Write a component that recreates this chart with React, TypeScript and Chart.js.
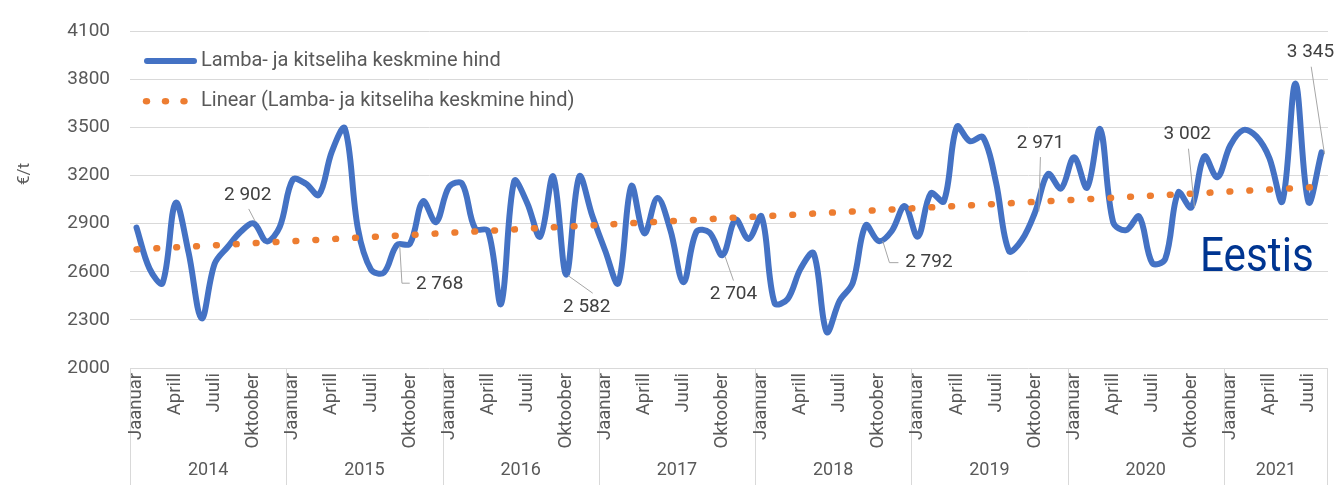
import React, { useEffect, useRef } from 'react';
import { Chart, registerables } from 'chart.js';

Chart.register(...registerables);

const FONT = 'Roboto, "Noto Sans", sans-serif';

// ---- data ----
const years = ['2014', '2015', '2016', '2017', '2018', '2019', '2020', '2021'];
const monthTicks = ['Jaanuar', '', '', 'Aprill', '', '', 'Juuli', '', '', 'Oktoober', '', ''];
const monthsInLastYear = 8;

const prices2014 = [2876, 2620, 2530, 3030, 2720, 2310, 2650, 2755, 2850, 2902, 2790, 2880];
const prices2015 = [3175, 3150, 3080, 3350, 3495, 2870, 2615, 2595, 2768, 2775, 3040, 2910];
const prices2016 = [3130, 3150, 2870, 2855, 2400, 3165, 3030, 2820, 3195, 2582, 3195, 2950];
const prices2017 = [2730, 2530, 3135, 2840, 3060, 2860, 2535, 2850, 2845, 2704, 2925, 2805];
const prices2018 = [2945, 2405, 2430, 2620, 2715, 2225, 2420, 2530, 2890, 2792, 2855, 3010];
const prices2019 = [2820, 3090, 3040, 3505, 3415, 3440, 3160, 2730, 2800, 2971, 3210, 3120];
const prices2020 = [3315, 3125, 3490, 2910, 2860, 2945, 2655, 2680, 3095, 3002, 3320, 3190];
const prices2021 = [3390, 3485, 3445, 3310, 3040, 3775, 3035, 3345];

const prices = [
  ...prices2014, ...prices2015, ...prices2016, ...prices2017,
  ...prices2018, ...prices2019, ...prices2020, ...prices2021,
];

// linear trend line end values
const trendStart = 2740;
const trendEnd = 3131;

const yMin = 2000;
const yMax = 4100;
const yStep = 300;

const seriesName = 'Lamba- ja kitseliha keskmine hind';
const trendName = 'Linear (Lamba- ja kitseliha keskmine hind)';
const yTitle = '€/t';
const regionText = 'Eestis';

// indices of labelled points
const calloutIndex = [9, 20, 33, 45, 57, 69, 81, 91];

// ---- derived tables ----
const categories: string[] = [];
years.forEach((yr, k) => {
  const count = k === years.length - 1 ? monthsInLastYear : 12;
  for (let m = 0; m < count; m++) categories.push(`${yr}-${m + 1}`);
});
const trendValues = prices.map((_, i) =>
  i === 0 ? trendStart : i === prices.length - 1 ? trendEnd : null
);

// ---- callout layout (offsets from the point, in px) ----
type Callout = { tx: number; ty: number; align: CanvasTextAlign; leader: number[][] };
const calloutLayout: Callout[] = [
  { tx: -6, ty: -28.5, align: 'center', leader: [[1.5, -2], [-5, -14.5]] },
  { tx: 19, ty: 39, align: 'left', leader: [[2.8, 1], [5, 38.3], [12.8, 38.3]] },
  { tx: 20.5, ty: 33, align: 'center', leader: [[2, 1], [26.5, 18.5]] },
  { tx: 11, ty: 39, align: 'center', leader: [[2.6, 1.4], [11, 25.4]] },
  { tx: 26.4, ty: 21.5, align: 'left', leader: [[4, 0], [10.7, 21.6], [19.7, 21.6]] },
  { tx: 5.5, ty: -69.5, align: 'center', leader: [[3.8, -1], [5.4, -55.3]] },
  { tx: -4, ty: -73, align: 'center', leader: [[3.2, -0.3], [-2.8, -58.7]] },
  { tx: -11, ty: -100, align: 'center', leader: [[3, 1.7], [-10.3, -85.7]] },
];

function fmt(v: number): string {
  const th = Math.floor(v / 1000);
  const rest = String(v % 1000).padStart(3, '0');
  return th > 0 ? `${th} ${rest}` : String(v);
}

const annotate = {
  id: 'annotate',
  afterDatasetsDraw(chart: any) {
    const ctx: CanvasRenderingContext2D = chart.ctx;
    const xs = chart.scales.x;
    const ys = chart.scales.y;
    const area = chart.chartArea;
    const n = prices.length;
    const step = (area.right - area.left) / n;
    const bottom = chart.height;

    ctx.save();

    // x axis: separators, month labels, year labels
    ctx.strokeStyle = '#d9d9d9';
    ctx.lineWidth = 1;
    let idx = 0;
    years.forEach((yr, k) => {
      const count = k === years.length - 1 ? monthsInLastYear : 12;
      const x0 = xs.getPixelForValue(idx) - step / 2;
      const x1 = xs.getPixelForValue(idx + count - 1) + step / 2;
      const sx = Math.round(x0) + 0.5;
      ctx.beginPath();
      ctx.moveTo(sx, area.bottom);
      ctx.lineTo(sx, bottom);
      ctx.stroke();
      if (k === years.length - 1) {
        const ex = Math.round(x1) - 0.5;
        ctx.beginPath();
        ctx.moveTo(ex, area.bottom);
        ctx.lineTo(ex, bottom);
        ctx.stroke();
      }
      ctx.fillStyle = '#595959';
      ctx.font = `18px ${FONT}`;
      ctx.textAlign = 'center';
      ctx.textBaseline = 'middle';
      ctx.fillText(yr, (x0 + x1) / 2, 470);
      for (let m = 0; m < count; m++) {
        const lab = monthTicks[m];
        if (!lab) continue;
        const px = xs.getPixelForValue(idx + m);
        ctx.save();
        ctx.translate(px, area.bottom + 5);
        ctx.rotate(-Math.PI / 2);
        ctx.textAlign = 'right';
        ctx.textBaseline = 'middle';
        ctx.font = `18.5px ${FONT}`;
        ctx.fillText(lab, 0, 0);
        ctx.restore();
      }
      idx += count;
    });

    // y title
    ctx.save();
    ctx.translate(25, 174);
    ctx.rotate(-Math.PI / 2);
    ctx.textAlign = 'center';
    ctx.textBaseline = 'middle';
    ctx.fillStyle = '#595959';
    ctx.font = `17px ${FONT}`;
    ctx.fillText(yTitle, 0, 0);
    ctx.restore();

    // legend
    ctx.lineCap = 'round';
    ctx.strokeStyle = '#4472C4';
    ctx.lineWidth = 6;
    ctx.beginPath();
    ctx.moveTo(147, 61);
    ctx.lineTo(194, 61);
    ctx.stroke();
    ctx.fillStyle = '#ED7D31';
    [146.5, 165.5, 184].forEach((dx) => {
      ctx.beginPath();
      ctx.ellipse(dx, 101.3, 3.7, 3.3, 0, 0, Math.PI * 2);
      ctx.fill();
    });
    ctx.fillStyle = '#595959';
    ctx.font = `20px ${FONT}`;
    ctx.textAlign = 'left';
    ctx.textBaseline = 'middle';
    ctx.fillText(seriesName, 201, 61);
    ctx.fillText(trendName, 201, 101);

    // callouts
    calloutIndex.forEach((pi, j) => {
      const c = calloutLayout[j];
      const px = xs.getPixelForValue(pi);
      const py = ys.getPixelForValue(prices[pi]);
      ctx.strokeStyle = '#a6a6a6';
      ctx.lineWidth = 1;
      ctx.lineCap = 'butt';
      ctx.beginPath();
      c.leader.forEach(([dx, dy], q) => {
        if (q === 0) ctx.moveTo(px + dx, py + dy);
        else ctx.lineTo(px + dx, py + dy);
      });
      ctx.stroke();
      ctx.fillStyle = '#404040';
      ctx.font = `19px ${FONT}`;
      ctx.textAlign = c.align;
      ctx.textBaseline = 'middle';
      ctx.fillText(fmt(prices[pi]), px + c.tx, py + c.ty);
    });

    // region text
    ctx.save();
    ctx.translate(1200, 271);
    ctx.scale(0.88, 1);
    ctx.fillStyle = '#003591';
    ctx.font = `48px ${FONT}`;
    ctx.textAlign = 'left';
    ctx.textBaseline = 'alphabetic';
    ctx.fillText(regionText, 0, 0);
    ctx.restore();

    ctx.restore();
  },
};

export default function App() {
  const ref = useRef<HTMLCanvasElement>(null);
  useEffect(() => {
    const canvas = ref.current;
    if (!canvas) return;
    Chart.defaults.font.family = FONT;
    const chart = new Chart(canvas, {
      type: 'line',
      data: {
        labels: categories,
        datasets: [
          {
            label: trendName,
            data: trendValues,
            borderColor: '#ED7D31',
            borderWidth: 6.5,
            borderDash: [0.8, 19.1],
            borderCapStyle: 'round',
            pointRadius: 0,
            spanGaps: true,
            tension: 0,
            order: 0,
          },
          {
            label: seriesName,
            data: prices,
            borderColor: '#4472C4',
            borderWidth: 6,
            borderCapStyle: 'round',
            borderJoinStyle: 'round',
            pointRadius: 0,
            tension: 0.35,
            order: 1,
          },
        ],
      },
      options: {
        animation: false,
        responsive: true,
        maintainAspectRatio: false,
        layout: { padding: { top: 21, right: 8, left: 0, bottom: 0 } },
        plugins: { legend: { display: false }, tooltip: { enabled: false } },
        scales: {
          x: {
            type: 'category',
            offset: true,
            grid: { display: false },
            border: { display: false },
            ticks: { display: false },
            afterFit: (s: any) => {
              s.height = 117;
            },
          },
          y: {
            min: yMin,
            max: yMax,
            ticks: {
              stepSize: yStep,
              color: '#595959',
              font: { size: 19, family: FONT },
              padding: 20,
              callback: (v: any) => String(v),
            },
            grid: { color: '#d9d9d9', lineWidth: 1, drawTicks: false },
            border: { display: false },
            afterFit: (s: any) => {
              s.width = 130;
            },
          },
        },
      },
      plugins: [annotate],
    } as any);
    return () => chart.destroy();
  }, []);
  return (
    <div style={{ position: 'fixed', left: 0, top: 0, width: 1336, height: 485, background: '#ffffff' }}>
      <canvas ref={ref} />
    </div>
  );
}
